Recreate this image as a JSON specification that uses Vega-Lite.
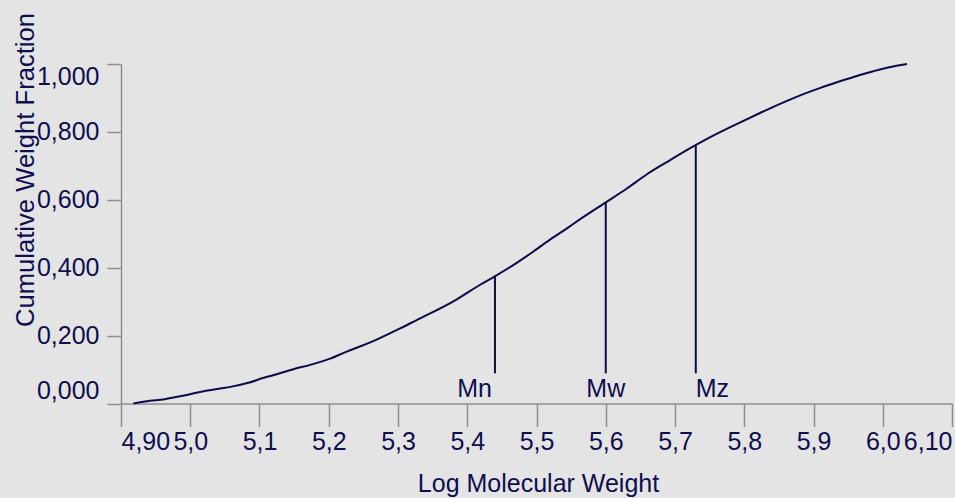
{
  "$schema": "https://vega.github.io/schema/vega-lite/v6.json",
  "width": 831,
  "height": 339.5,
  "autosize": {"type": "none"},
  "padding": {"left": 121, "top": 64, "right": 3, "bottom": 94.5},
  "background": "#e4e4e4",
  "config": {
    "view": {"stroke": null},
    "font": "Liberation Sans",
    "axis": {
      "grid": false,
      "domainColor": "#8e8e8e",
      "domainWidth": 1.5,
      "tickColor": "#8e8e8e",
      "tickWidth": 1.5,
      "labelFont": "Liberation Sans",
      "labelFontSize": 25,
      "labelColor": "#0e0e50",
      "labelOverlap": false,
      "labelBound": false,
      "labelFlush": true,
      "titleFont": "Liberation Sans",
      "titleFontSize": 25,
      "titleFontWeight": "normal",
      "titleColor": "#0e0e50"
    }
  },
  "datasets": {
    "curve": [
      {"logM": 4.918, "cum": 0.0},
      {"logM": 4.942, "cum": 0.008},
      {"logM": 4.961, "cum": 0.012},
      {"logM": 4.981, "cum": 0.02},
      {"logM": 4.997, "cum": 0.026},
      {"logM": 5.014, "cum": 0.034},
      {"logM": 5.043, "cum": 0.044},
      {"logM": 5.058, "cum": 0.049},
      {"logM": 5.084, "cum": 0.061},
      {"logM": 5.105, "cum": 0.075},
      {"logM": 5.126, "cum": 0.087},
      {"logM": 5.149, "cum": 0.101},
      {"logM": 5.177, "cum": 0.116},
      {"logM": 5.202, "cum": 0.132},
      {"logM": 5.226, "cum": 0.153},
      {"logM": 5.244, "cum": 0.167},
      {"logM": 5.27, "cum": 0.189},
      {"logM": 5.303, "cum": 0.221},
      {"logM": 5.332, "cum": 0.251},
      {"logM": 5.356, "cum": 0.275},
      {"logM": 5.385, "cum": 0.307},
      {"logM": 5.418, "cum": 0.349},
      {"logM": 5.441, "cum": 0.376},
      {"logM": 5.472, "cum": 0.415},
      {"logM": 5.495, "cum": 0.447},
      {"logM": 5.519, "cum": 0.482},
      {"logM": 5.544, "cum": 0.516},
      {"logM": 5.561, "cum": 0.54},
      {"logM": 5.599, "cum": 0.591},
      {"logM": 5.631, "cum": 0.634},
      {"logM": 5.66, "cum": 0.676},
      {"logM": 5.693, "cum": 0.717},
      {"logM": 5.729, "cum": 0.76},
      {"logM": 5.76, "cum": 0.794},
      {"logM": 5.789, "cum": 0.823},
      {"logM": 5.822, "cum": 0.855},
      {"logM": 5.851, "cum": 0.882},
      {"logM": 5.88, "cum": 0.907},
      {"logM": 5.909, "cum": 0.929},
      {"logM": 5.938, "cum": 0.949},
      {"logM": 5.966, "cum": 0.967},
      {"logM": 5.996, "cum": 0.984},
      {"logM": 6.02, "cum": 0.995},
      {"logM": 6.035, "cum": 1.0}
    ],
    "stats": [
      {"stat": "Mn", "logM": 5.44, "cum": 0.376, "base": 0.089},
      {"stat": "Mw", "logM": 5.6, "cum": 0.592, "base": 0.089},
      {"stat": "Mz", "logM": 5.73, "cum": 0.761, "base": 0.089}
    ]
  },
  "layer": [
    {
      "data": {"name": "curve"},
      "mark": {"type": "line", "color": "#0b0b4a", "strokeWidth": 2, "interpolate": "monotone"},
      "encoding": {
        "x": {
          "field": "logM",
          "type": "quantitative",
          "scale": {"domain": [4.9, 6.1], "nice": false, "zero": false},
          "axis": {
            "title": "Log Molecular Weight",
            "values": [4.9, 5.0, 5.1, 5.2, 5.3, 5.4, 5.5, 5.6, 5.7, 5.8, 5.9, 6.0, 6.1],
            "labelExpr": "(datum.value < 4.95 || datum.value > 6.05) ? replace(format(datum.value, '.2f'), '.', ',') : replace(format(datum.value, '.1f'), '.', ',')",
            "tickSize": 23,
            "labelPadding": 3,
            "titleX": 417,
            "titleY": 87.5,
            "titleAlign": "center",
            "titleBaseline": "alphabetic"
          }
        },
        "y": {
          "field": "cum",
          "type": "quantitative",
          "scale": {"domain": [0, 1], "nice": false},
          "axis": {
            "title": "Cumulative Weight Fraction",
            "values": [0, 0.2, 0.4, 0.6, 0.8, 1.0],
            "labelExpr": "replace(format(datum.value, '.3f'), '.', ',')",
            "tickSize": 14,
            "labelPadding": 8,
            "titleAngle": 270,
            "titleFontSize": 25.6,
            "titleX": -88,
            "titleY": 105.5,
            "titleAlign": "center",
            "titleBaseline": "alphabetic"
          }
        }
      }
    },
    {
      "data": {"name": "stats"},
      "mark": {"type": "rule", "color": "#0b0b4a", "strokeWidth": 2},
      "encoding": {
        "x": {"field": "logM", "type": "quantitative"},
        "y": {"field": "base", "type": "quantitative"},
        "y2": {"field": "cum"}
      }
    },
    {
      "data": {"name": "stats"},
      "transform": [{"filter": "datum.stat == 'Mn'"}],
      "mark": {"type": "text", "align": "right", "baseline": "top", "dx": -3, "dy": 4, "fontSize": 25, "color": "#0e0e50", "font": "Liberation Sans"},
      "encoding": {
        "x": {"field": "logM", "type": "quantitative"},
        "y": {"field": "base", "type": "quantitative"},
        "text": {"field": "stat"}
      }
    },
    {
      "data": {"name": "stats"},
      "transform": [{"filter": "datum.stat == 'Mw'"}],
      "mark": {"type": "text", "align": "center", "baseline": "top", "dy": 4, "fontSize": 25, "color": "#0e0e50", "font": "Liberation Sans"},
      "encoding": {
        "x": {"field": "logM", "type": "quantitative"},
        "y": {"field": "base", "type": "quantitative"},
        "text": {"field": "stat"}
      }
    },
    {
      "data": {"name": "stats"},
      "transform": [{"filter": "datum.stat == 'Mz'"}],
      "mark": {"type": "text", "align": "left", "baseline": "top", "dx": 0, "dy": 4, "fontSize": 25, "color": "#0e0e50", "font": "Liberation Sans"},
      "encoding": {
        "x": {"field": "logM", "type": "quantitative"},
        "y": {"field": "base", "type": "quantitative"},
        "text": {"field": "stat"}
      }
    }
  ]
}
